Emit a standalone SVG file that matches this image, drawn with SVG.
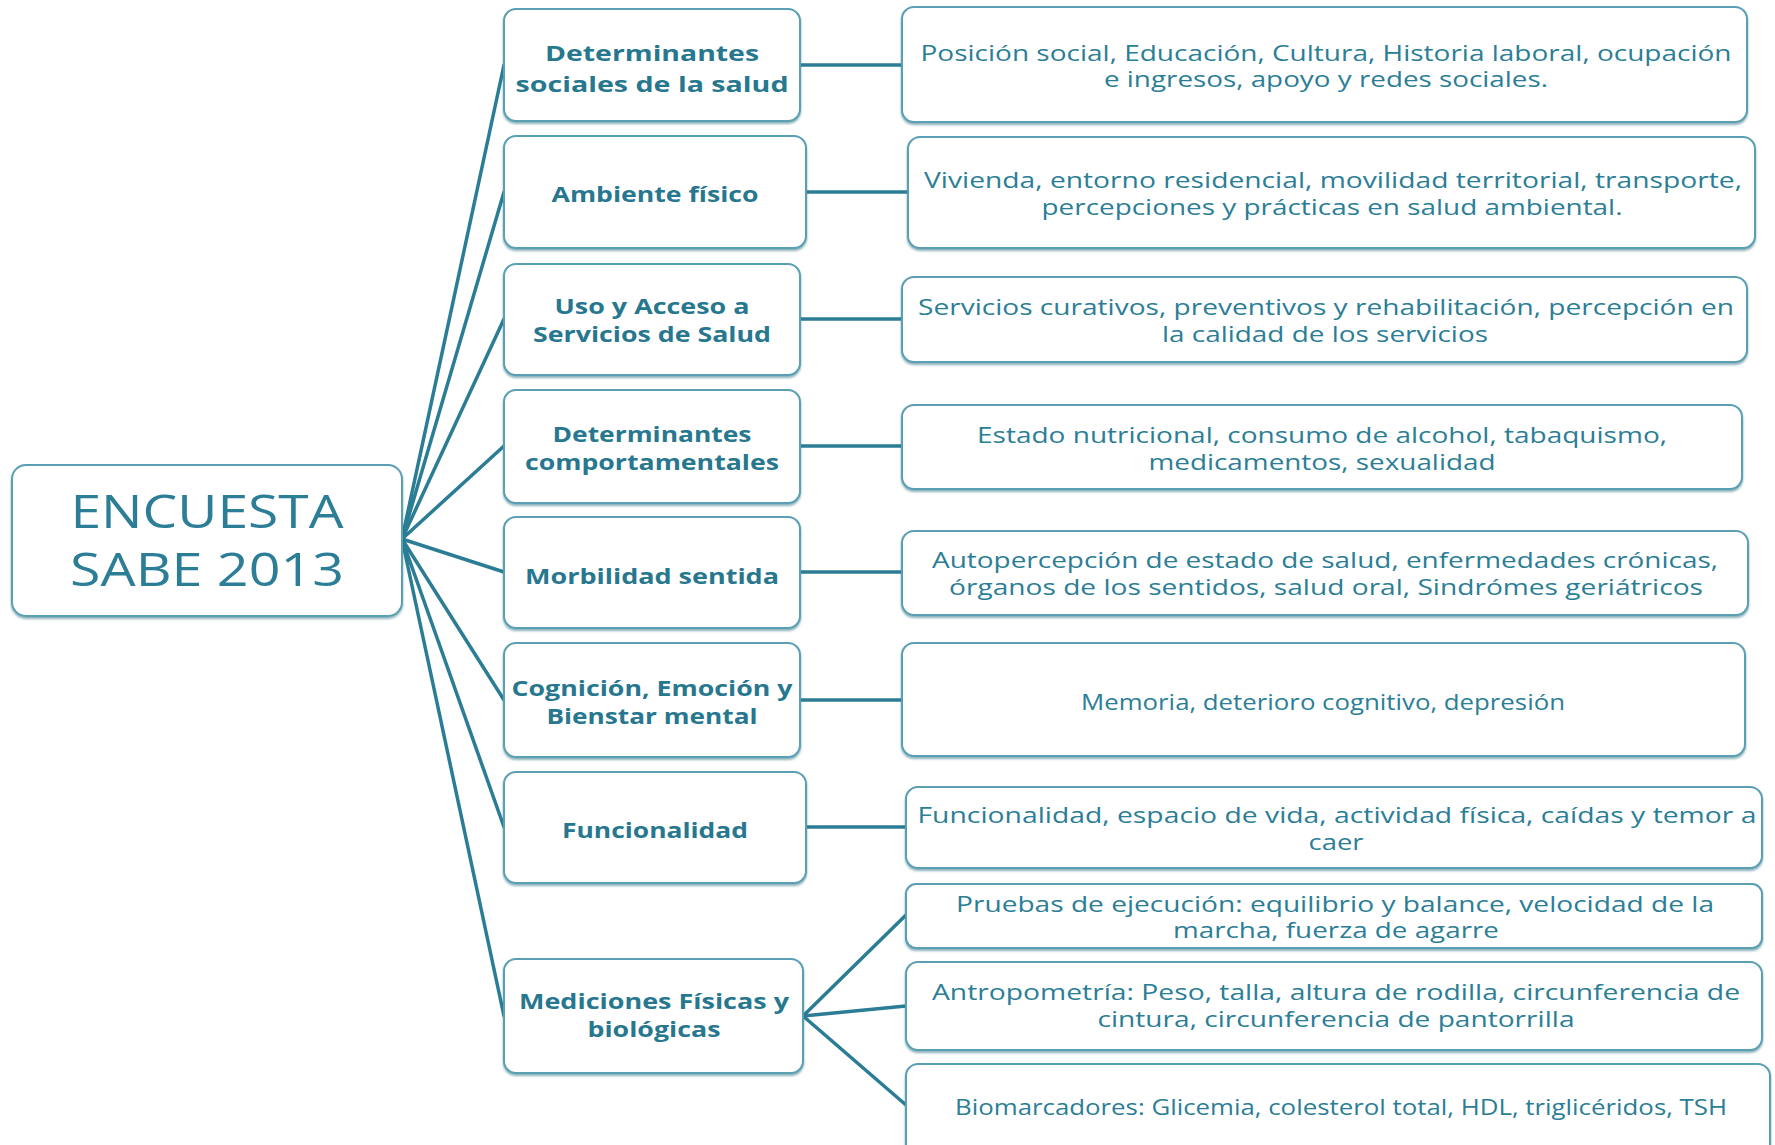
<svg xmlns="http://www.w3.org/2000/svg" width="1775" height="1145" viewBox="0 0 1775 1145">
<defs>
<filter id="sh" x="-5%" y="-10%" width="110%" height="130%">
<feDropShadow dx="0" dy="2" stdDeviation="1.2" flood-color="#2a6f82" flood-opacity="0.55"/>
</filter>
</defs>
<style>
.box{fill:#ffffff;stroke:#5a9fb3;stroke-width:2;filter:url(#sh)}
.ln{stroke:#2b7d95;stroke-width:3.5;fill:none;stroke-linecap:round}
text{fill:#2b7e96;text-anchor:middle;font-family:"Open Sans","Liberation Sans",sans-serif}
.t{font-size:21px}
.b{font-size:21.5px;font-weight:bold;fill:#27778f}
.c{font-size:46px}
</style>
<rect width="1775" height="1145" fill="#ffffff"/>
<g id="connectors">
<line class="ln" x1="402" y1="539" x2="504" y2="65"/>
<line class="ln" x1="402" y1="539" x2="504" y2="192"/>
<line class="ln" x1="402" y1="539" x2="504" y2="319"/>
<line class="ln" x1="402" y1="539" x2="504" y2="446"/>
<line class="ln" x1="402" y1="539" x2="504" y2="572"/>
<line class="ln" x1="402" y1="539" x2="504" y2="700"/>
<line class="ln" x1="402" y1="539" x2="504" y2="827"/>
<line class="ln" x1="402" y1="539" x2="504" y2="1016"/>
<line class="ln" x1="800" y1="65" x2="902" y2="65"/>
<line class="ln" x1="806" y1="192" x2="908" y2="192"/>
<line class="ln" x1="800" y1="319" x2="902" y2="319"/>
<line class="ln" x1="800" y1="446" x2="902" y2="446"/>
<line class="ln" x1="800" y1="572" x2="902" y2="572"/>
<line class="ln" x1="800" y1="700" x2="902" y2="700"/>
<line class="ln" x1="806" y1="827" x2="906" y2="827"/>
<line class="ln" x1="803" y1="1016" x2="906" y2="915"/>
<line class="ln" x1="803" y1="1016" x2="906" y2="1006"/>
<line class="ln" x1="803" y1="1016" x2="906" y2="1105"/>
</g>
<g id="n-encuesta">
<rect class="box" x="12" y="465" width="390" height="151" rx="14"/>
<text class="c" x="207" y="528" textLength="273" lengthAdjust="spacingAndGlyphs">ENCUESTA</text>
<text class="c" x="207" y="586" textLength="274" lengthAdjust="spacingAndGlyphs">SABE 2013</text>
</g>
<g id="m1">
<rect class="box" x="504" y="9" width="296" height="112" rx="12"/>
<text class="b" x="652" y="61" textLength="214" lengthAdjust="spacingAndGlyphs">Determinantes</text>
<text class="b" x="652" y="92" textLength="273" lengthAdjust="spacingAndGlyphs">sociales de la salud</text>
</g>
<g id="m2">
<rect class="box" x="504" y="136" width="302" height="112" rx="12"/>
<text class="b" x="655" y="202" textLength="207" lengthAdjust="spacingAndGlyphs">Ambiente físico</text>
</g>
<g id="m3">
<rect class="box" x="504" y="264" width="296" height="111" rx="12"/>
<text class="b" x="652" y="314" textLength="195" lengthAdjust="spacingAndGlyphs">Uso y Acceso a</text>
<text class="b" x="652" y="342" textLength="238" lengthAdjust="spacingAndGlyphs">Servicios de Salud</text>
</g>
<g id="m4">
<rect class="box" x="504" y="390" width="296" height="113" rx="12"/>
<text class="b" x="652" y="442" textLength="199" lengthAdjust="spacingAndGlyphs">Determinantes</text>
<text class="b" x="652" y="470" textLength="254" lengthAdjust="spacingAndGlyphs">comportamentales</text>
</g>
<g id="m5">
<rect class="box" x="504" y="517" width="296" height="111" rx="12"/>
<text class="b" x="652" y="584" textLength="254" lengthAdjust="spacingAndGlyphs">Morbilidad sentida</text>
</g>
<g id="m6">
<rect class="box" x="504" y="643" width="296" height="114" rx="12"/>
<text class="b" x="652" y="696" textLength="281" lengthAdjust="spacingAndGlyphs">Cognición, Emoción y</text>
<text class="b" x="652" y="724" textLength="211" lengthAdjust="spacingAndGlyphs">Bienstar mental</text>
</g>
<g id="m7">
<rect class="box" x="504" y="772" width="302" height="111" rx="12"/>
<text class="b" x="655" y="838" textLength="186" lengthAdjust="spacingAndGlyphs">Funcionalidad</text>
</g>
<g id="m8">
<rect class="box" x="504" y="959" width="299" height="114" rx="12"/>
<text class="b" x="654" y="1009" textLength="270" lengthAdjust="spacingAndGlyphs">Mediciones Físicas y</text>
<text class="b" x="654" y="1037" textLength="133" lengthAdjust="spacingAndGlyphs">biológicas</text>
</g>
<g id="r1">
<rect class="box" x="902" y="7" width="845" height="115" rx="12"/>
<text class="t" x="1326" y="61" textLength="811" lengthAdjust="spacingAndGlyphs">Posición social, Educación, Cultura, Historia laboral, ocupación</text>
<text class="t" x="1326" y="87" textLength="444" lengthAdjust="spacingAndGlyphs">e ingresos, apoyo y redes sociales.</text>
</g>
<g id="r2">
<rect class="box" x="908" y="137" width="847" height="111" rx="12"/>
<text class="t" x="1333" y="188" textLength="818" lengthAdjust="spacingAndGlyphs">Vivienda, entorno residencial, movilidad territorial, transporte,</text>
<text class="t" x="1332" y="215" textLength="581" lengthAdjust="spacingAndGlyphs">percepciones y prácticas en salud ambiental.</text>
</g>
<g id="r3">
<rect class="box" x="902" y="277" width="845" height="85" rx="12"/>
<text class="t" x="1326" y="315" textLength="816" lengthAdjust="spacingAndGlyphs">Servicios curativos, preventivos y rehabilitación, percepción en</text>
<text class="t" x="1325" y="342" textLength="326" lengthAdjust="spacingAndGlyphs">la calidad de los servicios</text>
</g>
<g id="r4">
<rect class="box" x="902" y="405" width="840" height="84" rx="12"/>
<text class="t" x="1322" y="443" textLength="690" lengthAdjust="spacingAndGlyphs">Estado nutricional, consumo de alcohol, tabaquismo,</text>
<text class="t" x="1322" y="470" textLength="347" lengthAdjust="spacingAndGlyphs">medicamentos, sexualidad</text>
</g>
<g id="r5">
<rect class="box" x="902" y="531" width="846" height="84" rx="12"/>
<text class="t" x="1325" y="568" textLength="786" lengthAdjust="spacingAndGlyphs">Autopercepción de estado de salud, enfermedades crónicas,</text>
<text class="t" x="1326" y="595" textLength="754" lengthAdjust="spacingAndGlyphs">órganos de los sentidos,  salud oral, Sindrómes geriátricos</text>
</g>
<g id="r6">
<rect class="box" x="902" y="643" width="843" height="113" rx="12"/>
<text class="t" x="1323" y="710" textLength="484" lengthAdjust="spacingAndGlyphs">Memoria, deterioro cognitivo, depresión</text>
</g>
<g id="r7">
<rect class="box" x="906" y="787" width="856" height="81" rx="12"/>
<text class="t" x="1337" y="823" textLength="839" lengthAdjust="spacingAndGlyphs">Funcionalidad, espacio de vida, actividad física,  caídas y temor a</text>
<text class="t" x="1336" y="850" textLength="55" lengthAdjust="spacingAndGlyphs">caer</text>
</g>
<g id="r8">
<rect class="box" x="906" y="884" width="856" height="64" rx="10"/>
<text class="t" x="1335" y="912" textLength="758" lengthAdjust="spacingAndGlyphs">Pruebas de ejecución: equilibrio y balance, velocidad de la</text>
<text class="t" x="1336" y="938" textLength="326" lengthAdjust="spacingAndGlyphs">marcha, fuerza de agarre</text>
</g>
<g id="r9">
<rect class="box" x="906" y="962" width="856" height="88" rx="12"/>
<text class="t" x="1336" y="1000" textLength="808" lengthAdjust="spacingAndGlyphs">Antropometría: Peso, talla, altura de rodilla, circunferencia de</text>
<text class="t" x="1336" y="1027" textLength="477" lengthAdjust="spacingAndGlyphs">cintura, circunferencia de pantorrilla</text>
</g>
<g id="r10">
<rect class="box" x="906" y="1064" width="864" height="100" rx="12"/>
<text class="t" x="1341" y="1115" textLength="772" lengthAdjust="spacingAndGlyphs">Biomarcadores: Glicemia, colesterol total, HDL, triglicéridos, TSH</text>
</g>
</svg>
